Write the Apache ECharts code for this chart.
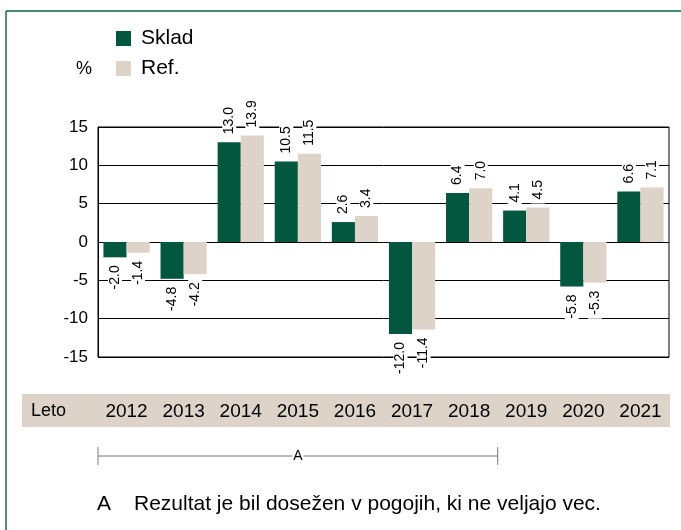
<!DOCTYPE html>
<html>
<head>
<meta charset="utf-8">
<script src="https://cdn.jsdelivr.net/npm/echarts@6/dist/echarts.min.js"></script>
<style>
  html, body { margin: 0; padding: 0; background: #fff; }
  #chart { width: 681px; height: 530px; }
</style>
</head>
<body>
<div id="chart"></div>
<script>
// Annual returns (%) for the fund and its reference index
const years = ['2012', '2013', '2014', '2015', '2016', '2017', '2018', '2019', '2020', '2021'];
const skladValues = [-2.0, -4.8, 13.0, 10.5, 2.6, -12.0, 6.4, 4.1, -5.8, 6.6];
const refValues = [-1.4, -4.2, 13.9, 11.5, 3.4, -11.4, 7.0, 4.5, -5.3, 7.1];
const yTicks = { min: -15, max: 15, interval: 5 };
const seriesNames = ['Sklad', 'Ref.'];
// Years achieved under conditions that no longer apply
const bracketFrom = '2012';
const bracketTo = '2018';

const FONT = '"Liberation Sans", Arial, sans-serif';
const GREEN = '#04573f';
const BEIGE = '#ddd3c8';

function barData(values) {
  return values.map(v => ({
    value: v,
    label: v >= 0
      ? { position: 'top', align: 'left', verticalAlign: 'middle' }
      : { position: 'bottom', align: 'right', verticalAlign: 'middle' }
  }));
}

const labelStyle = {
  show: true,
  rotate: 90,
  distance: 4,
  color: '#000',
  fontFamily: FONT,
  fontSize: 14,
  backgroundColor: '#fff',
  padding: [0, 4, 0, 4],
  formatter: p => p.value.toFixed(1)
};

const chart = echarts.init(document.getElementById('chart'), null, { renderer: 'canvas' });

const option = {
  animation: false,
  backgroundColor: '#fff',
  textStyle: { fontFamily: FONT },
  legend: {
    orient: 'vertical',
    left: 111,
    top: 23,
    itemWidth: 15,
    itemHeight: 15,
    itemGap: 9,
    icon: 'rect',
    textStyle: { fontFamily: FONT, fontSize: 21, color: '#000', padding: [0, 0, 0, 5] },
    data: seriesNames
  },
  grid: {
    left: 98,
    right: 12,
    top: 127,
    bottom: 173,
    show: true,
    borderColor: '#000',
    borderWidth: 1
  },
  xAxis: {
    type: 'category',
    data: years,
    axisLine: { show: false },
    axisTick: { show: false },
    axisLabel: {
      interval: 0,
      color: '#000',
      fontFamily: FONT,
      fontSize: 19,
      lineHeight: 19,
      margin: 45
    }
  },
  yAxis: {
    type: 'value',
    min: yTicks.min,
    max: yTicks.max,
    interval: yTicks.interval,
    axisLine: { show: true, lineStyle: { color: '#000', width: 1 } },
    axisTick: { show: false },
    axisLabel: { color: '#000', fontFamily: FONT, fontSize: 17, margin: 10 },
    splitLine: { show: true, lineStyle: { color: '#000', width: 1 } }
  },
  series: [
    {
      name: seriesNames[0],
      type: 'bar',
      data: barData(skladValues),
      itemStyle: { color: GREEN },
      barGap: '0%',
      barCategoryGap: '19%',
      label: labelStyle,
      z: 3
    },
    {
      name: seriesNames[1],
      type: 'bar',
      data: barData(refValues),
      itemStyle: { color: BEIGE },
      barGap: '0%',
      barCategoryGap: '19%',
      label: labelStyle,
      z: 3
    }
  ]
};

chart.setOption(option);

// Decorations: frame, year band, unit, period bracket and footnote
const xFrom = chart.convertToPixel({ xAxisIndex: 0 }, bracketFrom);
const xTo = chart.convertToPixel({ xAxisIndex: 0 }, bracketTo);
const band = (chart.convertToPixel({ xAxisIndex: 0 }, years[1]) - xFrom);
const bLeft = xFrom - band / 2;
const bRight = xTo + band / 2;
const bY = 456;

chart.setOption({
  graphic: [
    { type: 'line', shape: { x1: 6, y1: 11, x2: 681, y2: 11 }, style: { stroke: '#4a8b6e', lineWidth: 2 } },
    { type: 'line', shape: { x1: 6, y1: 11, x2: 6, y2: 530 }, style: { stroke: '#1a6a42', lineWidth: 1.5 } },
    { type: 'rect', z: -1, shape: { x: 22, y: 394, width: 648, height: 33 }, style: { fill: BEIGE } },
    { type: 'text', left: 31, top: 402, z: 5, style: { text: 'Leto', fill: '#000', font: '18px ' + FONT } },
    { type: 'text', left: 76, top: 60, style: { text: '%', fill: '#000', font: '18px ' + FONT } },
    { type: 'line', shape: { x1: bLeft, y1: bY, x2: bRight, y2: bY }, style: { stroke: '#777', lineWidth: 1 } },
    { type: 'line', shape: { x1: bLeft, y1: bY - 9, x2: bLeft, y2: bY + 9 }, style: { stroke: '#777', lineWidth: 1 } },
    { type: 'line', shape: { x1: bRight, y1: bY - 9, x2: bRight, y2: bY + 9 }, style: { stroke: '#777', lineWidth: 1 } },
    {
      type: 'text', z: 5,
      x: (bLeft + bRight) / 2, y: bY,
      style: {
        text: 'A', fill: '#000', font: '14px ' + FONT,
        align: 'center', verticalAlign: 'middle',
        backgroundColor: '#fff', padding: [0, 1]
      }
    },
    { type: 'text', left: 97, top: 494, style: { text: 'A', fill: '#000', font: '21px ' + FONT } },
    { type: 'text', left: 134, top: 494, style: { text: 'Rezultat je bil dosežen v pogojih, ki ne veljajo vec.', fill: '#000', font: '21px ' + FONT } }
  ]
});
</script>
</body>
</html>
